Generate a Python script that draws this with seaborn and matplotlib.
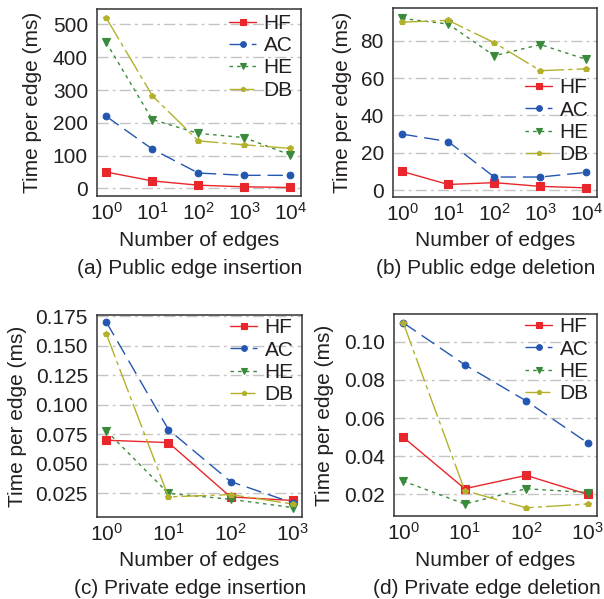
import numpy as np
import pandas as pd
import matplotlib
matplotlib.use("Agg")
import matplotlib.pyplot as plt
import matplotlib.ticker as mticker
import seaborn as sns

# ---------------- data ----------------
methods = ["HF", "AC", "HE", "DB"]
edges_pub = [1, 10, 100, 1000, 10000]
edges_priv = [1, 10, 100, 1000]

a_HF = [50, 23, 10, 5, 3]
a_AC = [220, 120, 47, 40, 40]
a_HE = [445, 210, 168, 155, 102]
a_DB = [520, 283, 145, 133, 122]

b_HF = [10, 3, 4, 2, 1.2]
b_AC = [30, 26, 7, 7, 9.5]
b_HE = [92, 89, 72, 78, 70]
b_DB = [90, 91, 79, 64, 65]

c_HF = [0.070, 0.068, 0.022, 0.019]
c_AC = [0.170, 0.079, 0.035, 0.017]
c_HE = [0.078, 0.025, 0.020, 0.013]
c_DB = [0.160, 0.022, 0.024, 0.016]

d_HF = [0.050, 0.023, 0.030, 0.020]
d_AC = [0.110, 0.088, 0.069, 0.047]
d_HE = [0.027, 0.015, 0.023, 0.021]
d_DB = [0.110, 0.022, 0.013, 0.015]

captions = ["(a) Public edge insertion", "(b) Public edge deletion",
            "(c) Private edge insertion", "(d) Private edge deletion"]
y_ticks = [[0, 100, 200, 300, 400, 500],
           [0, 20, 40, 60, 80],
           [0.025, 0.050, 0.075, 0.100, 0.125, 0.150, 0.175],
           [0.02, 0.04, 0.06, 0.08, 0.10]]
y_fmt = ["{:.0f}", "{:.0f}", "{:.3f}", "{:.2f}"]

# ---------------- style ----------------
sns.set_theme(style="white")
TXT = "#231f20"
plt.rcParams["font.family"] = ["Liberation Sans", "DejaVu Sans"]
plt.rcParams["mathtext.default"] = "regular"
plt.rcParams["text.color"] = TXT
plt.rcParams["axes.labelcolor"] = TXT
plt.rcParams["xtick.color"] = TXT
plt.rcParams["ytick.color"] = TXT

palette = {"HF": "#e8262b", "AC": "#2356b0", "HE": "#3a8a3c", "DB": "#b3b12c"}
markers = {"HF": "s", "AC": "o", "HE": "v", "DB": "p"}
dashes = {"HF": None, "AC": (11, 5), "HE": (2.5, 3), "DB": (18, 3, 3, 3)}
msizes = {"HF": 5.2, "AC": 4.8, "HE": 5.5, "DB": 4.0}

W, H = 604, 599
fig = plt.figure(figsize=(W / 100, H / 100), dpi=100)

def box(l, t, r, b):
    return [l / W, 1 - b / H, (r - l) / W, (b - t) / H]

# axes boxes in pixels (left, top, right, bottom)
px_boxes = [(97, 9, 301, 196), (393, 8, 597, 197),
            (97, 315, 302, 517), (394, 314, 597, 516)]
ylabel_x = [33, 342, 18, 325]
xlims = [(10 ** -0.2, 10 ** 4.23), (10 ** -0.2, 10 ** 4.23),
         (10 ** -0.15, 10 ** 3.15), (10 ** -0.15, 10 ** 3.15)]
ylims = [(-23, 547), (-3.7, 97.6), (0.005, 0.176), (0.0087, 0.1146)]
legend_pos = [("upper right", (1.01, 1.03)), ("center right", (1.01, 0.40)),
              ("upper right", (1.01, 1.035)), ("upper right", (1.01, 1.035))]

panels = [
    (edges_pub, [a_HF, a_AC, a_HE, a_DB]),
    (edges_pub, [b_HF, b_AC, b_HE, b_DB]),
    (edges_priv, [c_HF, c_AC, c_HE, c_DB]),
    (edges_priv, [d_HF, d_AC, d_HE, d_DB]),
]

FS = 15
for i, (xs, series) in enumerate(panels):
    l, t, r, b = px_boxes[i]
    ax = fig.add_axes(box(l, t, r, b))
    rows = []
    for m, vals in zip(methods, series):
        for x, v in zip(xs, vals):
            rows.append({"edges": x, "time": v, "method": m})
    df = pd.DataFrame(rows)
    ax.set_xscale("log")
    for m in methods:
        sub = df[df["method"] == m]
        sns.lineplot(data=sub, x="edges", y="time", ax=ax, color=palette[m],
                     marker=markers[m], markersize=msizes[m],
                     markeredgecolor=palette[m], markeredgewidth=0.8,
                     linewidth=1.0, label=m, zorder=3)
        line = ax.get_lines()[-1]
        if dashes[m]:
            line.set_dashes(dashes[m])
    ax.set_xlim(*xlims[i])
    ax.set_ylim(*ylims[i])
    ax.xaxis.set_major_locator(mticker.FixedLocator(xs))
    ax.xaxis.set_major_formatter(mticker.LogFormatterMathtext())
    ax.xaxis.set_minor_locator(mticker.NullLocator())
    ax.set_yticks(y_ticks[i])
    ax.set_yticklabels([y_fmt[i].format(v) for v in y_ticks[i]])
    ax.tick_params(axis="both", which="major", direction="in", length=3,
                   width=0.8, labelsize=FS, color="#555555")
    ax.tick_params(axis="y", pad=6.5)
    ax.tick_params(axis="x", pad=4.2)
    for y in y_ticks[i]:
        ax.axhline(y, color="#c4c4c4", lw=1.0, ls=(0, (8, 3, 2, 3)), zorder=1)
    for s in ax.spines.values():
        s.set_color("#333333")
        s.set_linewidth(1.1)
        s.set_visible(True)
    ax.set_xlabel("Number of edges", fontsize=FS, va="center")
    ax.xaxis.set_label_coords((l + r) / 2 / W, 1 - (b + 44) / H,
                              transform=fig.transFigure)
    ax.set_ylabel("Time per edge (ms)", fontsize=FS, va="center")
    ax.yaxis.set_label_coords(ylabel_x[i] / W, 1 - (t + b) / 2 / H,
                              transform=fig.transFigure)
    loc, anchor = legend_pos[i]
    ax.legend(loc=loc, bbox_to_anchor=anchor, frameon=False, fontsize=FS,
              handlelength=1.3, handletextpad=0.35, labelspacing=0.16,
              borderaxespad=0.3, borderpad=0.2, markerscale=0.85)
    fig.text((l + r) / 2 / W - 9 / W, 1 - (b + 72) / H, captions[i],
             ha="center", va="center", fontsize=FS)

fig.savefig("out.png", dpi=100)
